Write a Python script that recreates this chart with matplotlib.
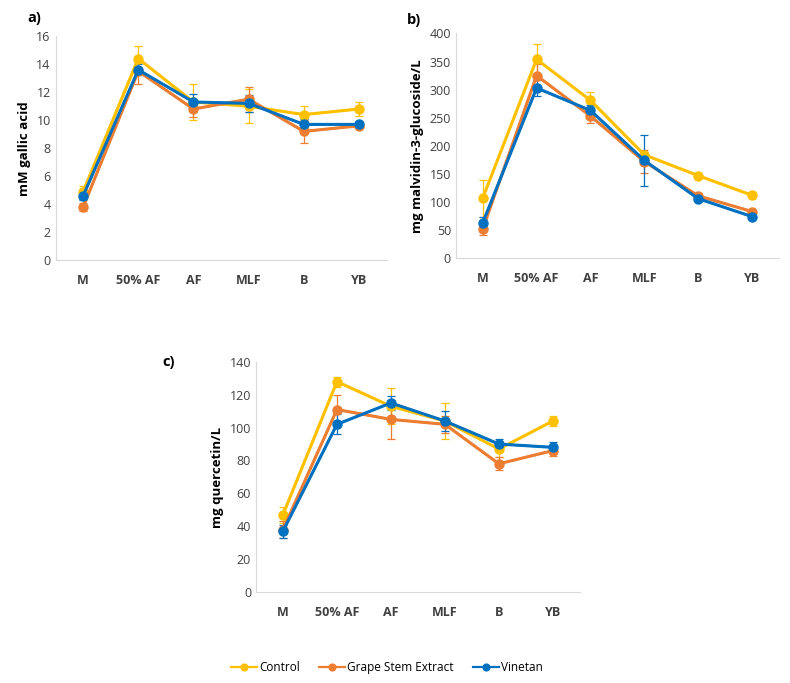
import numpy as np
import matplotlib.pyplot as plt

stages = ['M', '50% AF', 'AF', 'MLF', 'B', 'YB']
series = ['Control', 'Grape Stem Extract', 'Vinetan']
colors = ['#FFC000', '#ED7D31', '#0070C0']

# a) total phenols (mM gallic acid)
a_ctrl = [4.9, 14.4, 11.3, 11.0, 10.4, 10.8]
a_ctrl_err = [0.4, 0.9, 1.3, 1.2, 0.6, 0.5]
a_gse = [3.8, 13.5, 10.8, 11.5, 9.2, 9.6]
a_gse_err = [0.3, 0.9, 0.6, 0.9, 0.8, 0.1]
a_vin = [4.6, 13.6, 11.3, 11.2, 9.7, 9.7]
a_vin_err = [0.3, 0.4, 0.6, 0.6, 0.4, 0.1]

# b) anthocyanins (mg malvidin-3-glucoside/L)
b_ctrl = [107, 354, 281, 184, 147, 112]
b_ctrl_err = [33, 27, 15, 5, 3, 5]
b_gse = [52, 325, 253, 172, 111, 83]
b_gse_err = [10, 20, 12, 20, 5, 3]
b_vin = [63, 303, 263, 174, 106, 74]
b_vin_err = [10, 15, 10, 45, 5, 3]

# c) flavonols (mg quercetin/L)
c_ctrl = [47, 128, 113, 104, 87, 104]
c_ctrl_err = [5, 3, 11, 11, 5, 3]
c_gse = [38, 111, 105, 102, 78, 86]
c_gse_err = [5, 9, 12, 5, 4, 3]
c_vin = [37, 102, 115, 104, 90, 88]
c_vin_err = [4, 6, 4, 6, 3, 3]

plt.rcParams['font.family'] = ['Open Sans', 'DejaVu Sans']

fig = plt.figure(figsize=(7.9, 6.83), dpi=100)

panels = [
    ([0.0703, 0.619, 0.419, 0.328], 'a)', (-0.086, 1.08), 'mM gallic acid', 16, 2,
     [(a_ctrl, a_ctrl_err), (a_gse, a_gse_err), (a_vin, a_vin_err)]),
    ([0.577, 0.622, 0.409, 0.329], 'b)', (-0.152, 1.058), 'mg malvidin-3-glucoside/L', 400, 50,
     [(b_ctrl, b_ctrl_err), (b_gse, b_gse_err), (b_vin, b_vin_err)]),
    ([0.324, 0.1332, 0.410, 0.337], 'c)', (-0.288, 1.0), 'mg quercetin/L', 140, 20,
     [(c_ctrl, c_ctrl_err), (c_gse, c_gse_err), (c_vin, c_vin_err)]),
]

x = np.arange(len(stages))
handles = []
for rect, tag, tagpos, ylab, ymax, step, data in panels:
    ax = fig.add_axes(rect)
    handles = []
    for (vals, errs), col, name in zip(data, colors, series):
        ax.errorbar(x, vals, yerr=errs, color=col, ecolor=col, elinewidth=0.9,
                    capsize=3, capthick=0.9, zorder=2)
        h, = ax.plot(x, vals, color=col, lw=2.2, marker='o', ms=6.5, label=name, zorder=3)
        handles.append(h)
    ax.set_xlim(-0.5, len(stages) - 0.5)
    ax.set_ylim(0, ymax)
    ax.set_yticks(np.arange(0, ymax + 1, step))
    ax.set_xticks(x)
    ax.set_xticklabels(stages, fontweight='bold', fontsize=9)
    ax.tick_params(axis='both', length=0, colors='#404040', labelsize=9)
    ax.tick_params(axis='x', pad=10)
    for s in ['top', 'right']:
        ax.spines[s].set_visible(False)
    for s in ['left', 'bottom']:
        ax.spines[s].set_color('#D9D9D9')
    ax.set_ylabel(ylab, fontweight='bold', fontsize=9.5, color='black')
    ax.text(tagpos[0], tagpos[1], tag, transform=ax.transAxes, fontweight='bold',
            fontsize=10.5, ha='left', va='center')

leg = fig.legend(handles, series, loc='center', bbox_to_anchor=(0.49, 0.022), ncol=3,
                 frameon=False, fontsize=8.5, handlelength=2.2, handletextpad=0.2,
                 columnspacing=1.6, markerscale=0.75)
for line in leg.get_lines():
    line.set_linewidth(1.6)

plt.savefig('out.png', dpi=100)
